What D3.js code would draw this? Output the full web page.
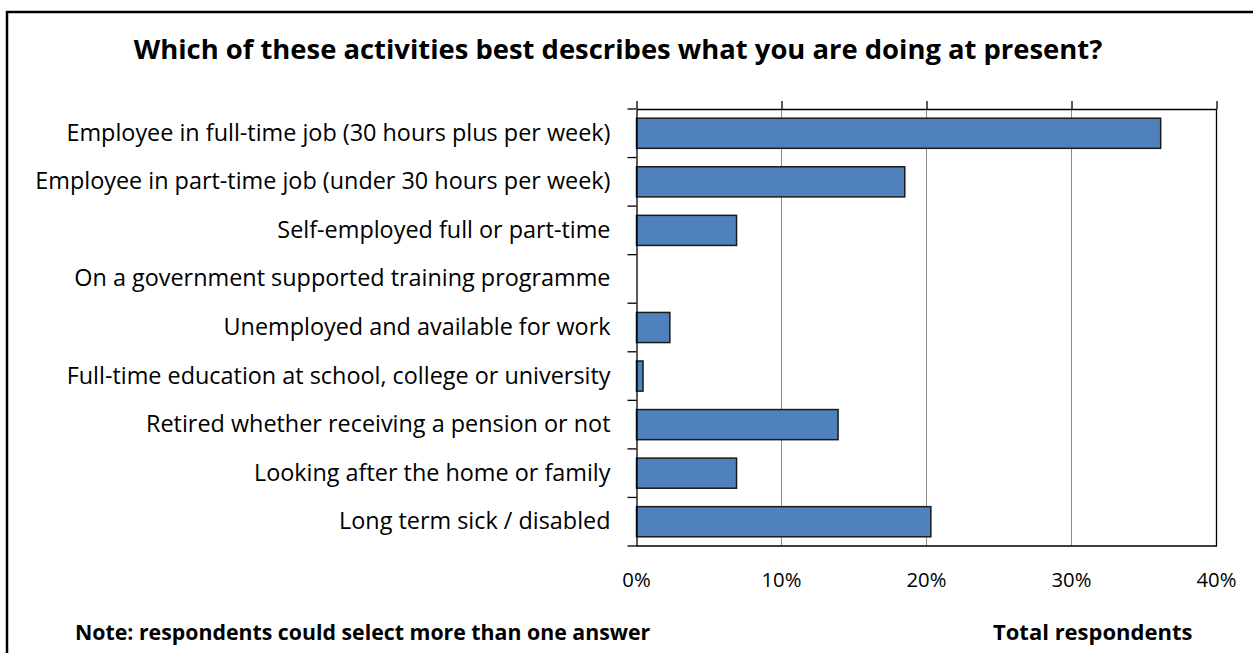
<!DOCTYPE html>
<html>
<head>
<meta charset="utf-8">
<script src="https://cdn.jsdelivr.net/npm/d3@7"></script>
<style>
  body { margin: 0; background: #fff; }
  text { font-family: "Open Sans", sans-serif; fill: #000; }
</style>
</head>
<body>
<svg id="chart" width="1253" height="653"></svg>
<script>
// categories top to bottom
const categories = [
    "Employee in full-time job (30 hours plus per week)",
    "Employee in part-time job (under 30 hours per week)",
    "Self-employed full or part-time",
    "On a government supported training programme",
    "Unemployed and available for work",
    "Full-time education at school, college or university",
    "Retired whether receiving a pension or not",
    "Looking after the home or family",
    "Long term sick / disabled"
];
const values = [36.15, 18.5, 6.9, 0, 2.3, 0.45, 13.9, 6.9, 20.3]; // percent
const xTicks = [0, 10, 20, 30, 40];

const svg = d3.select("#chart");
const plotL = 636.5, plotR = 1216.5, plotT = 109, plotB = 546;

// outer frame
svg.append("rect")
    .attr("x", 7).attr("y", 12)
    .attr("width", 1270).attr("height", 680)
    .attr("fill", "none").attr("stroke", "#000").attr("stroke-width", 2.5);

svg.append("text")
    .attr("x", 618).attr("y", 59)
    .attr("text-anchor", "middle")
    .attr("font-size", 27.4).attr("font-weight", "bold")
    .text("Which of these activities best describes what you are doing at present?");

const x = d3.scaleLinear().domain([0, 40]).range([plotL, plotR]);
const y = d3.scaleBand().domain(categories).range([plotT, plotB]).paddingInner(0.38).paddingOuter(0.19);

// gridlines
svg.append("g").selectAll("line")
    .data(xTicks.slice(1, -1))
    .join("line")
    .attr("x1", d => x(d)).attr("x2", d => x(d))
    .attr("y1", plotT).attr("y2", plotB)
    .attr("stroke", "#8c8c8c").attr("stroke-width", 1);

// bars
svg.append("g").selectAll("rect")
    .data(values)
    .join("rect")
    .attr("x", x(0))
    .attr("y", (d, i) => y(categories[i]))
    .attr("width", d => x(d) - x(0))
    .attr("height", y.bandwidth())
    .attr("fill", "#4f81bd")
    .attr("stroke", d => d > 0 ? "#1a1a1a" : "none")
    .attr("stroke-width", 1.5);

// plot border (right + bottom)
svg.append("path")
    .attr("d", `M${plotR},${plotT}V${plotB}H${plotL}`)
    .attr("fill", "none").attr("stroke", "#000").attr("stroke-width", 1.3);

// top axis with ticks going up, labels placed below the plot
const topAxis = svg.append("g")
    .attr("transform", `translate(0,${plotT})`)
    .call(d3.axisTop(x).tickValues(xTicks).tickSize(8).tickSizeOuter(0).tickFormat(""));
topAxis.select(".domain").attr("stroke", "#000").attr("stroke-width", 1.3);
topAxis.selectAll(".tick line").attr("stroke", "#000").attr("stroke-width", 1.3);

svg.append("g").selectAll("text")
    .data(xTicks)
    .join("text")
    .attr("x", d => x(d)).attr("y", 587)
    .attr("text-anchor", "middle")
    .attr("font-size", 20.3)
    .text(d => d + "%");

// left category axis
const leftAxis = svg.append("g")
    .attr("transform", `translate(${plotL},0)`)
    .call(d3.axisLeft(y).tickSize(0).tickPadding(26));
leftAxis.select(".domain").attr("stroke", "#000").attr("stroke-width", 1.3);
leftAxis.selectAll("text").attr("font-size", 23.4).attr("font-family", "Open Sans, sans-serif").attr("fill", "#000");

// category separator ticks
const step = (plotB - plotT) / categories.length;
svg.append("g").selectAll("line")
    .data(d3.range(categories.length + 1))
    .join("line")
    .attr("x1", plotL - 9).attr("x2", plotL)
    .attr("y1", d => plotT + d * step).attr("y2", d => plotT + d * step)
    .attr("stroke", "#000").attr("stroke-width", 1.3);

svg.append("text")
    .attr("x", 75).attr("y", 640)
    .attr("font-size", 21.3).attr("font-weight", "bold")
    .text("Note: respondents could select more than one answer");

svg.append("text")
    .attr("x", 993).attr("y", 640)
    .attr("font-size", 22).attr("font-weight", "bold")
    .text("Total respondents");
</script>
</body>
</html>
